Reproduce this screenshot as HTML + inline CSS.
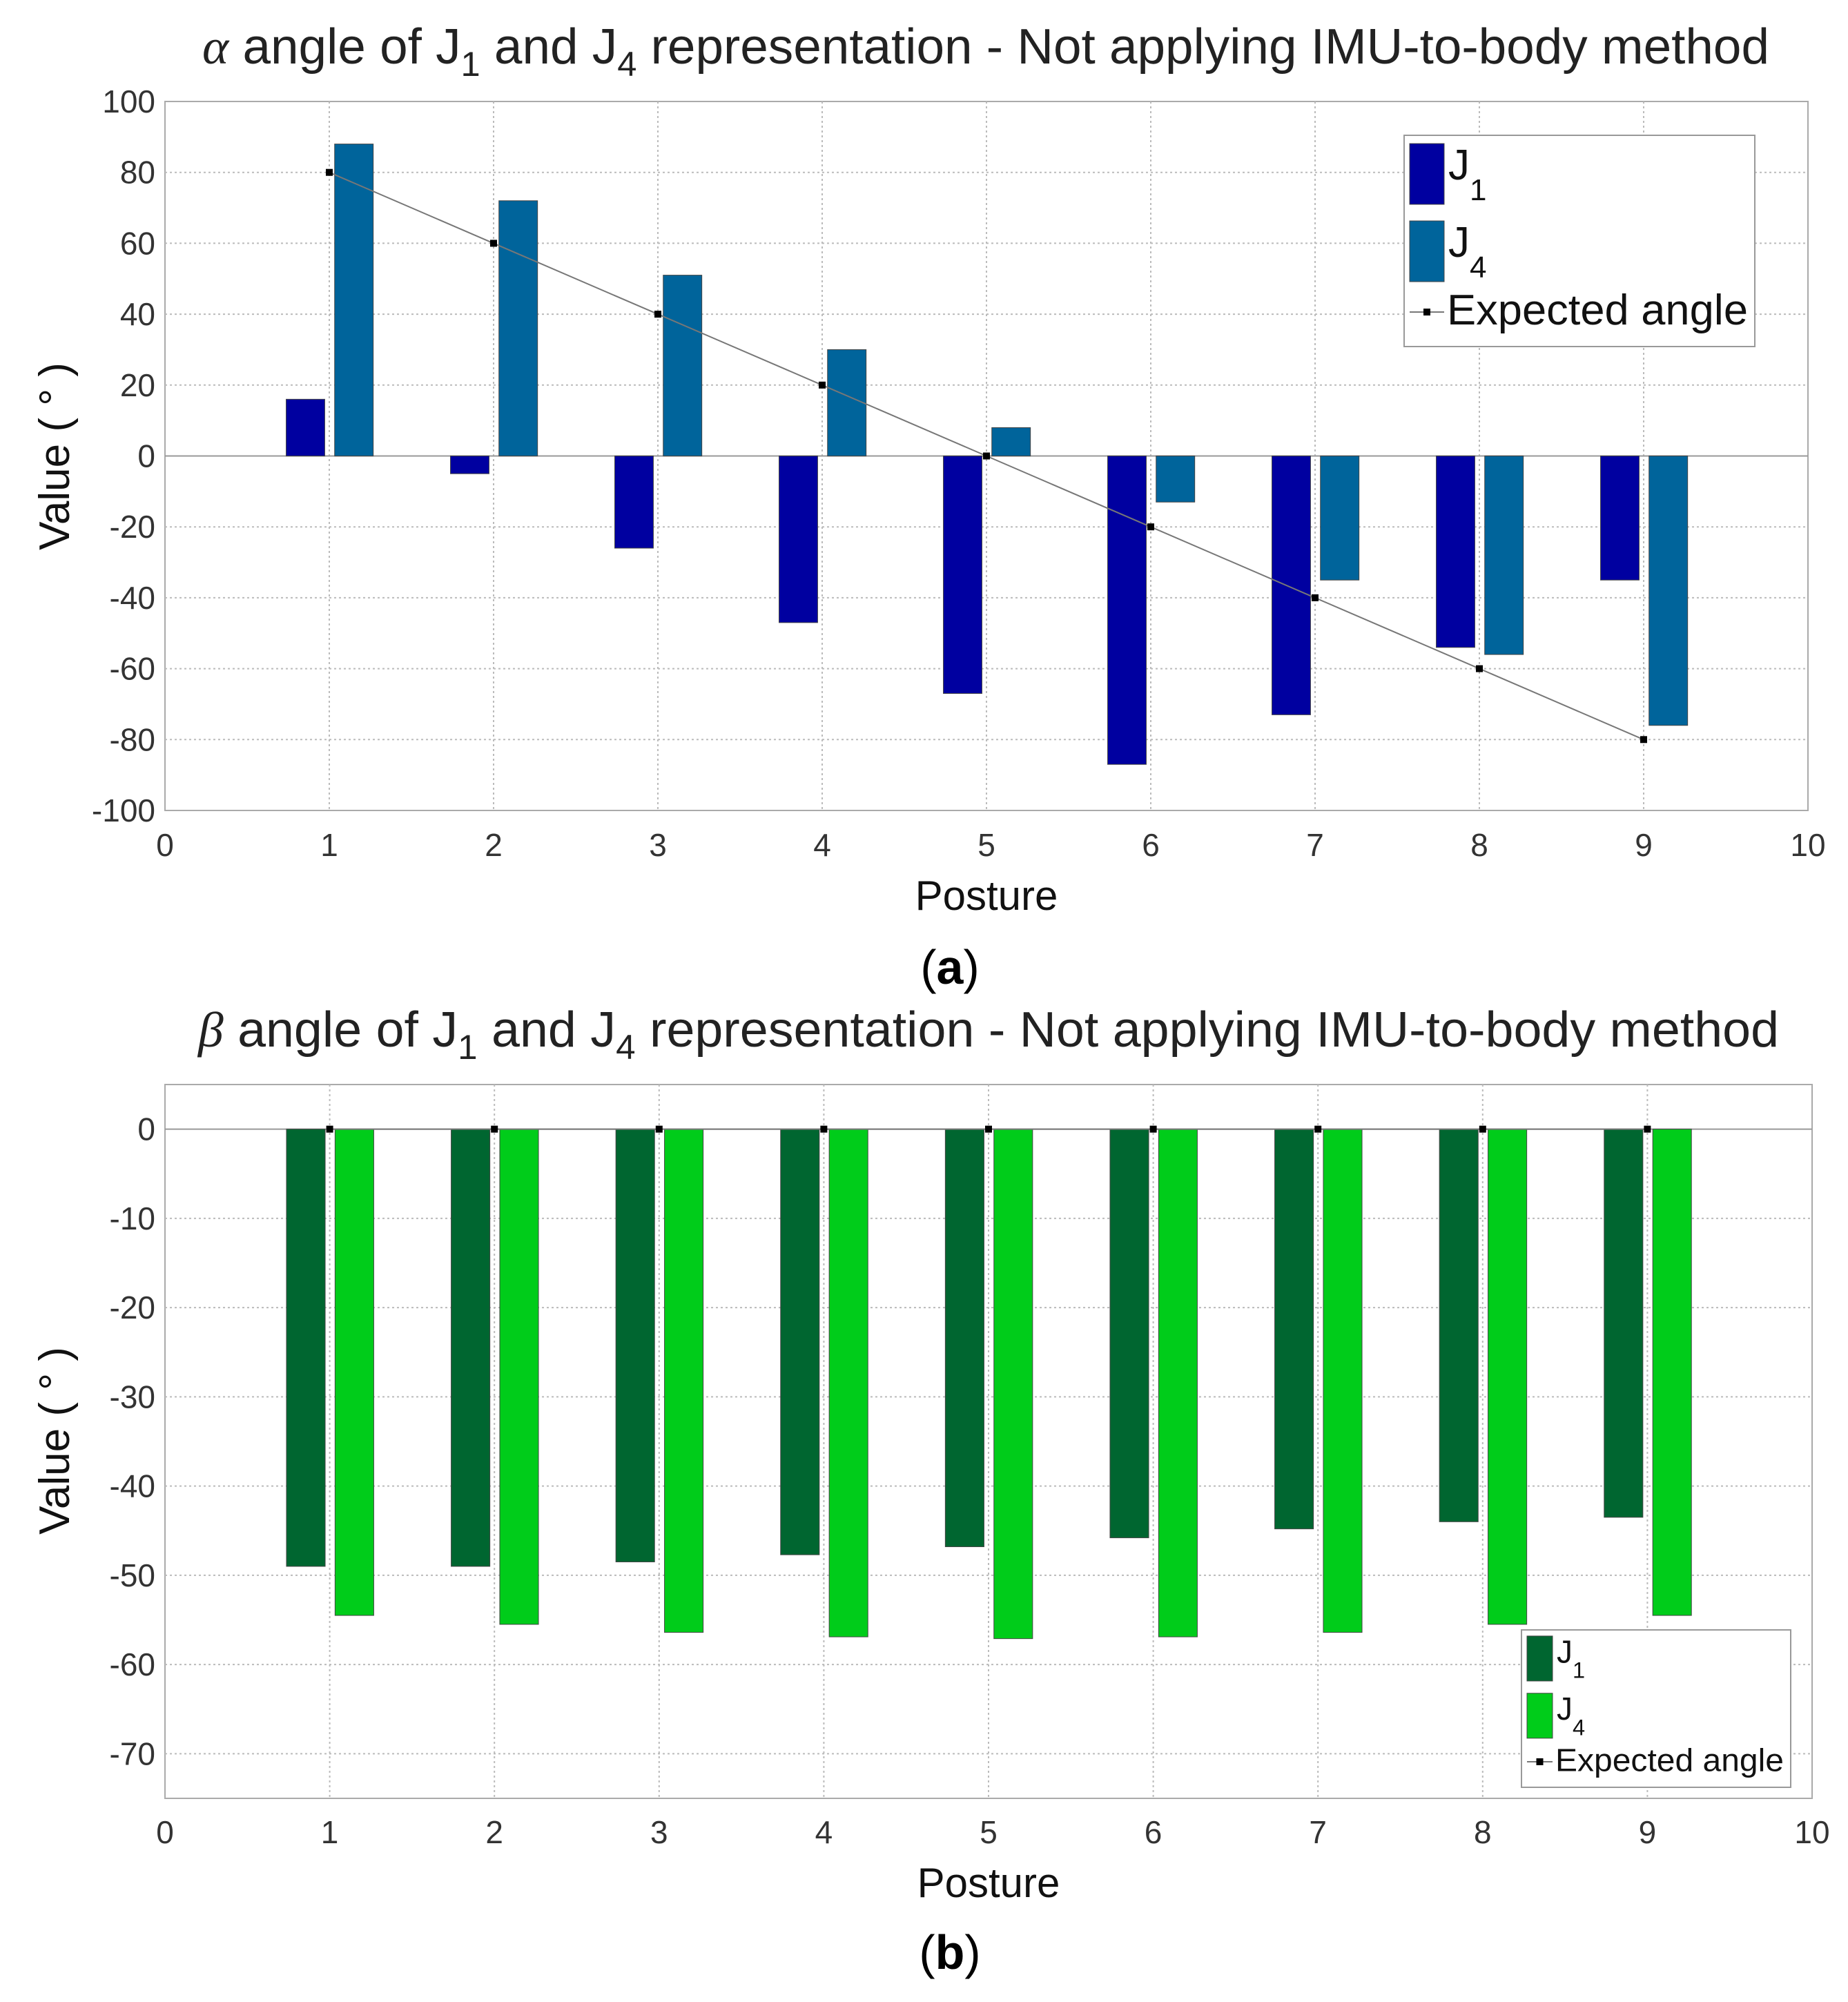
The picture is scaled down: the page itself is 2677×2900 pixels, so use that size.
<!DOCTYPE html>
<html><head><meta charset="utf-8">
<style>
html,body{margin:0;padding:0;background:#fff;}
svg text{font-family:"Liberation Sans",sans-serif;}
</style></head>
<body>
<svg id="fig" width="2677" height="2895" viewBox="0 0 2677 2895" xmlns="http://www.w3.org/2000/svg">
<rect width="2677" height="2895" fill="#fff"/>
<text x="1428" y="92" font-size="72" text-anchor="middle" fill="#222" textLength="2270" lengthAdjust="spacingAndGlyphs"><tspan font-family="Liberation Serif" font-style="italic">α</tspan> angle of J<tspan font-size="50" dy="18">1</tspan><tspan dy="-18"> and J</tspan><tspan font-size="50" dy="18">4</tspan><tspan dy="-18"> representation - Not applying IMU-to-body method</tspan></text>
<text x="1432" y="1516" font-size="72" text-anchor="middle" fill="#222" textLength="2290" lengthAdjust="spacingAndGlyphs"><tspan font-family="Liberation Serif" font-style="italic">β</tspan>  angle of J<tspan font-size="50" dy="18">1</tspan><tspan dy="-18"> and J</tspan><tspan font-size="50" dy="18">4</tspan><tspan dy="-18"> representation - Not applying IMU-to-body method</tspan></text>
<text x="1376" y="1425" font-size="70" text-anchor="middle" font-family="Liberation Serif" fill="#000">(<tspan font-weight="bold">a</tspan>)</text>
<text x="1376" y="2852" font-size="70" text-anchor="middle" font-family="Liberation Serif" fill="#000">(<tspan font-weight="bold">b</tspan>)</text>
</svg>
<script>
const postures=[1,2,3,4,5,6,7,8,9];
const alphaJ1=[16,-5,-26,-47,-67,-87,-73,-54,-35];
const alphaJ4=[88,72,51,30,8,-13,-35,-56,-76];
const alphaExpected=[80,60,40,20,0,-20,-40,-60,-80];
const alphaYTicks=[100,80,60,40,20,0,-20,-40,-60,-80,-100];
const betaJ1=[-49,-49,-48.5,-47.7,-46.8,-45.8,-44.8,-44,-43.5];
const betaJ4=[-54.5,-55.5,-56.4,-56.9,-57.1,-56.9,-56.4,-55.5,-54.5];
const betaExpected=[0,0,0,0,0,0,0,0,0];
const betaYTicks=[0,-10,-20,-30,-40,-50,-60,-70];
const xTicks=[0,1,2,3,4,5,6,7,8,9,10];

const NS='http://www.w3.org/2000/svg';
const svg=document.getElementById('fig');
function mk(tag,attrs,parent){const e=document.createElementNS(NS,tag);for(const k in attrs)e.setAttribute(k,attrs[k]);(parent||svg).appendChild(e);return e;}

function chart(o){
  const g=mk('g',{});
  
  
  const X=v=>o.L+(v-0)/10*(o.R-o.L);
  const Y=v=>o.T+(o.ymax-v)/(o.ymax-o.ymin)*(o.B-o.T);
  mk('rect',{x:o.L,y:o.T,width:o.R-o.L,height:o.B-o.T,fill:'#fff',stroke:'#aaa','stroke-width':2},g);
  xTicks.forEach(t=>{
    if(t>0&&t<10)mk('line',{x1:X(t),x2:X(t),y1:o.T,y2:o.B,stroke:'#bbb','stroke-width':2,'stroke-dasharray':'3,4'},g);
    const tx=mk('text',{x:X(t),y:o.xTickY,'font-size':46,'text-anchor':'middle',fill:'#333'},g);tx.textContent=t;
    
    
  });
  o.yTicks.forEach(t=>{
    if(t<o.ymax&&t>o.ymin&&t!==0)mk('line',{x1:o.L,x2:o.R,y1:Y(t),y2:Y(t),stroke:'#bbb','stroke-width':2,'stroke-dasharray':'3,4'},g);
    const tx=mk('text',{x:o.L-14,y:Y(t)+16,'font-size':46,'text-anchor':'end',fill:'#333'},g);tx.textContent=t;
    
    
  });
  mk('line',{x1:o.L,x2:o.R,y1:Y(0),y2:Y(0),stroke:'#999','stroke-width':2},g);
  const bw=0.235;
  postures.forEach((p,i)=>{
    [[o.j1,-0.145,o.c1,'bar-j1'],[o.j4,0.15,o.c4,'bar-j4']].forEach(([arr,off,c,nm])=>{
      const v=arr[i];const x0=X(p+off-bw/2),x1=X(p+off+bw/2);
      const r=mk('rect',{x:x0,y:Math.min(Y(0),Y(v)),width:x1-x0,height:Math.abs(Y(v)-Y(0)),fill:c,stroke:'#444','stroke-width':1},g);
      
      
    });
  });
  const pts=postures.map((p,i)=>X(p)+','+Y(o.exp[i])).join(' ');
  const pl=mk('polyline',{points:pts,fill:'none',stroke:'#777','stroke-width':2},g);
  
  
  postures.forEach((p,i)=>{
    const m=mk('rect',{x:X(p)-5,y:Y(o.exp[i])-5,width:10,height:10,fill:'#000'},g);
    
    
  });
  const xl=mk('text',{x:(o.L+o.R)/2,y:o.xLabY,'font-size':60,'text-anchor':'middle',fill:'#111'},g);xl.textContent='Posture';
  
  
  const yl=mk('text',{x:0,y:0,'font-size':62,'text-anchor':'middle',fill:'#111',transform:`translate(${o.yLabX},${o.yLabY}) rotate(-90)`},g);yl.textContent='Value ( ° )';
  
  
  const lg=mk('g',{},g);
  
  
  const Lx=o.leg[0],Ly=o.leg[1],Lw=o.leg[2],Lh=o.leg[3],s=o.legScale;
  mk('rect',{x:Lx,y:Ly,width:Lw,height:Lh,fill:'#fff',stroke:'#999','stroke-width':2},lg);
  const sw=50*s,sh=88*s;
  [[o.c1,'1',Ly+12*s],[o.c4,'4',Ly+124*s]].forEach(([c,sub,y])=>{
    mk('rect',{x:Lx+8,y:y,width:sw,height:sh,fill:c,stroke:'#444','stroke-width':1},lg);
    const t=mk('text',{x:Lx+8+sw+6,y:y+52*s,'font-size':62*s,fill:'#111'},lg);
    t.innerHTML='J<tspan font-size="'+(44*s)+'" dy="'+(30*s)+'">'+sub+'</tspan>';
    
    
  });
  const ey=Ly+Lh-32*s;
  mk('line',{x1:Lx+8,x2:Lx+8+sw,y1:ey-18*s,y2:ey-18*s,stroke:'#777','stroke-width':2},lg);
  mk('rect',{x:Lx+8+sw/2-5,y:ey-18*s-5,width:10,height:10,fill:'#000'},lg);
  const et=mk('text',{x:Lx+8+sw+4,y:ey,'font-size':62*s,fill:'#111',textLength:Lw-sw-22,lengthAdjust:'spacingAndGlyphs'},lg);et.textContent='Expected angle';
  
  
}

chart({name:'alpha-chart',L:239,R:2619,T:147,B:1174,ymax:100,ymin:-100,yTicks:alphaYTicks,
  j1:alphaJ1,j4:alphaJ4,exp:alphaExpected,c1:'#0000a0',c4:'#00649b',
  xTickY:1240,xLabY:1318,yLabX:100,yLabY:661,leg:[2034,196,508,306],legScale:1});
chart({name:'beta-chart',L:239,R:2625,T:1571,B:2605,ymax:5,ymin:-75,yTicks:betaYTicks,
  j1:betaJ1,j4:betaJ4,exp:betaExpected,c1:'#006630',c4:'#00cc1a',
  xTickY:2670,xLabY:2748,yLabX:100,yLabY:2087,leg:[2204,2361,390,228],legScale:0.74});
</script>
</body></html>
